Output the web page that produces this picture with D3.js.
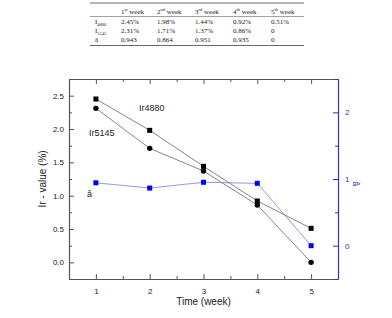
<!DOCTYPE html>
<html>
<head>
<meta charset="utf-8">
<script src="https://cdn.jsdelivr.net/npm/d3@7"></script>
<style>
  body { margin: 0; background: #fff; }
  svg { display: block; }
  .tbl { font-family: "Liberation Serif", "Times New Roman", serif; font-size: 7px; fill: #222; }
  .lbl { font-family: "Liberation Sans", Arial, sans-serif; fill: #222; }
</style>
</head>
<body>
<script>
const weeks = [1, 2, 3, 4, 5];
const ir4880 = [2.45, 1.98, 1.44, 0.92, 0.51];
const ir5145 = [2.31, 1.71, 1.37, 0.86, 0];
const aHat = [0.943, 0.864, 0.951, 0.935, 0];

const tableHeads = [["1", "st"], ["2", "nd"], ["3", "rd"], ["4", "th"], ["5", "th"]];
const tableRows = [
  { name: "I", sub: "4880", cells: ["2.45%", "1.98%", "1.44%", "0.92%", "0.51%"] },
  { name: "I", sub: "5145", cells: ["2.31%", "1.71%", "1.37%", "0.86%", "0"] },
  { name: "â", sub: "", cells: ["0.943", "0.864", "0.951", "0.935", "0"] }
];

const leftTicks = [0, 0.5, 1, 1.5, 2, 2.5];
const rightTicks = [0, 1, 2];

const width = 392, height = 318;
const margin = { top: 79, right: 54, bottom: 39, left: 69 };

const svg = d3.select("body").append("svg").attr("width", width).attr("height", height);

// table on top
const tbl = svg.append("g").attr("class", "tbl");
const colX = [121, 157, 195, 233, 271];
const rowY = [24, 33, 41.7];
const tblLine = (y, w) => tbl.append("line").attr("x1", 90).attr("x2", 304)
  .attr("y1", y).attr("y2", y).attr("stroke", "#444").attr("stroke-width", w);
tblLine(3, 0.8);
tblLine(16.5, 0.5);
tblLine(45.5, 0.8);
tableHeads.forEach((h, i) => {
  const t = tbl.append("text").attr("x", colX[i]).attr("y", 13.5);
  t.append("tspan").text(h[0]);
  t.append("tspan").attr("font-size", 4.5).attr("dy", -3).text(h[1]);
  t.append("tspan").attr("dy", 3).text(" week");
});
tableRows.forEach((r, j) => {
  const t = tbl.append("text").attr("x", 95).attr("y", rowY[j]);
  t.append("tspan").text(r.name);
  if (r.sub) t.append("tspan").attr("font-size", 4.5).attr("dy", 1.5).text(r.sub);
  r.cells.forEach((c, i) => {
    tbl.append("text").attr("x", colX[i]).attr("y", rowY[j]).text(c);
  });
});

// scales
const x = d3.scaleLinear().domain([0.5, 5.5]).range([margin.left, width - margin.right]);
const yL = d3.scaleLinear().domain([-0.25, 2.75]).range([height - margin.bottom, margin.top]);
const yR = d3.scaleLinear().domain([-0.5, 2.5]).range([height - margin.bottom, margin.top]);

const grey = "#555";
const blue = "#3030c8";

function styleAxis(g, color) {
  g.select(".domain").attr("stroke", color).attr("stroke-width", 1.2);
  g.selectAll(".tick line").attr("stroke", color);
  g.selectAll(".tick text").attr("fill", color === grey ? "#222" : color)
    .attr("font-family", "Liberation Sans, Arial, sans-serif").attr("font-size", 8);
}

// minor ticks helper
const halfSteps = (lo, hi, step) => d3.range(lo, hi + 1e-9, step);

// bottom axis
const xMinor = halfSteps(0.5, 5.5, 0.5).filter(v => !weeks.includes(v));
svg.append("g").attr("transform", `translate(0,${height - margin.bottom})`)
  .call(d3.axisBottom(x).tickValues(xMinor).tickSize(-3).tickFormat(""))
  .call(g => g.select(".domain").remove())
  .call(g => g.selectAll(".tick line").attr("stroke", grey));
svg.append("g").attr("transform", `translate(0,${height - margin.bottom})`)
  .call(d3.axisBottom(x).tickValues(weeks).tickSizeInner(-5).tickSizeOuter(0).tickPadding(9).tickFormat(d3.format("d")))
  .call(g => styleAxis(g, grey));

// top axis
svg.append("g").attr("transform", `translate(0,${margin.top})`)
  .call(d3.axisTop(x).tickValues(xMinor).tickSize(-3).tickFormat(""))
  .call(g => g.select(".domain").remove())
  .call(g => g.selectAll(".tick line").attr("stroke", grey));
svg.append("g").attr("transform", `translate(0,${margin.top})`)
  .call(d3.axisTop(x).tickValues(weeks).tickSizeInner(-5).tickSizeOuter(0).tickFormat(""))
  .call(g => styleAxis(g, grey));

// left axis
const yMinor = halfSteps(-0.25, 2.75, 0.25).filter(v => !leftTicks.some(t => Math.abs(t - v) < 1e-9));
svg.append("g").attr("transform", `translate(${margin.left},0)`)
  .call(d3.axisLeft(yL).tickValues(yMinor).tickSize(-3).tickFormat(""))
  .call(g => g.select(".domain").remove())
  .call(g => g.selectAll(".tick line").attr("stroke", grey));
svg.append("g").attr("transform", `translate(${margin.left},0)`)
  .call(d3.axisLeft(yL).tickValues(leftTicks).tickSizeInner(-5).tickSizeOuter(0).tickPadding(5).tickFormat(d3.format(".1f")))
  .call(g => styleAxis(g, grey));

// right axis
const rMinor = [-0.5, 0.5, 1.5, 2.5];
svg.append("g").attr("transform", `translate(${width - margin.right},0)`)
  .call(d3.axisRight(yR).tickValues(rMinor).tickSize(-3).tickFormat(""))
  .call(g => g.select(".domain").remove())
  .call(g => g.selectAll(".tick line").attr("stroke", blue));
svg.append("g").attr("transform", `translate(${width - margin.right},0)`)
  .call(d3.axisRight(yR).tickValues(rightTicks).tickSizeInner(-5).tickSizeOuter(0).tickPadding(7).tickFormat(d3.format("d")))
  .call(g => styleAxis(g, blue));

// axis titles
svg.append("text").attr("class", "lbl").attr("font-size", 10)
  .attr("transform", `translate(46,${(margin.top + height - margin.bottom) / 2}) rotate(-90)`)
  .attr("text-anchor", "middle").text("Ir - value (%)");
svg.append("text").attr("class", "lbl").attr("font-size", 10)
  .attr("x", (margin.left + width - margin.right) / 2).attr("y", 305)
  .attr("text-anchor", "middle").text("Time (week)");
svg.append("text").attr("class", "lbl").attr("font-size", 9).attr("fill", blue).style("fill", blue)
  .attr("transform", `translate(353,${yR(0.93)}) rotate(90)`)
  .attr("text-anchor", "middle").text("â");

// series
const lineL = d3.line().x((d, i) => x(weeks[i])).y(d => yL(d));
const lineR = d3.line().x((d, i) => x(weeks[i])).y(d => yR(d));

svg.append("path").datum(aHat).attr("d", lineR).attr("fill", "none").attr("stroke", "#7a7af0").attr("stroke-width", 0.8);
svg.append("path").datum(ir4880).attr("d", lineL).attr("fill", "none").attr("stroke", "#666").attr("stroke-width", 0.8);
svg.append("path").datum(ir5145).attr("d", lineL).attr("fill", "none").attr("stroke", "#666").attr("stroke-width", 0.8);

const sq = 5;
svg.append("g").selectAll("rect").data(ir4880).join("rect")
  .attr("x", (d, i) => x(weeks[i]) - sq / 2).attr("y", d => yL(d) - sq / 2)
  .attr("width", sq).attr("height", sq).attr("fill", "#000");
svg.append("g").selectAll("circle").data(ir5145).join("circle")
  .attr("cx", (d, i) => x(weeks[i])).attr("cy", d => yL(d)).attr("r", 2.7).attr("fill", "#000");
svg.append("g").selectAll("rect").data(aHat).join("rect")
  .attr("x", (d, i) => x(weeks[i]) - sq / 2).attr("y", d => yR(d) - sq / 2)
  .attr("width", sq).attr("height", sq).attr("fill", "#0000ff");

// series annotations
svg.append("text").attr("class", "lbl").attr("font-size", 9).attr("x", 139).attr("y", 111).text("Ir4880");
svg.append("text").attr("class", "lbl").attr("font-size", 9).attr("x", 89).attr("y", 136).text("Ir5145");
svg.append("text").attr("class", "lbl").attr("font-size", 9).attr("x", 87).attr("y", 197).text("â");
</script>
</body>
</html>
